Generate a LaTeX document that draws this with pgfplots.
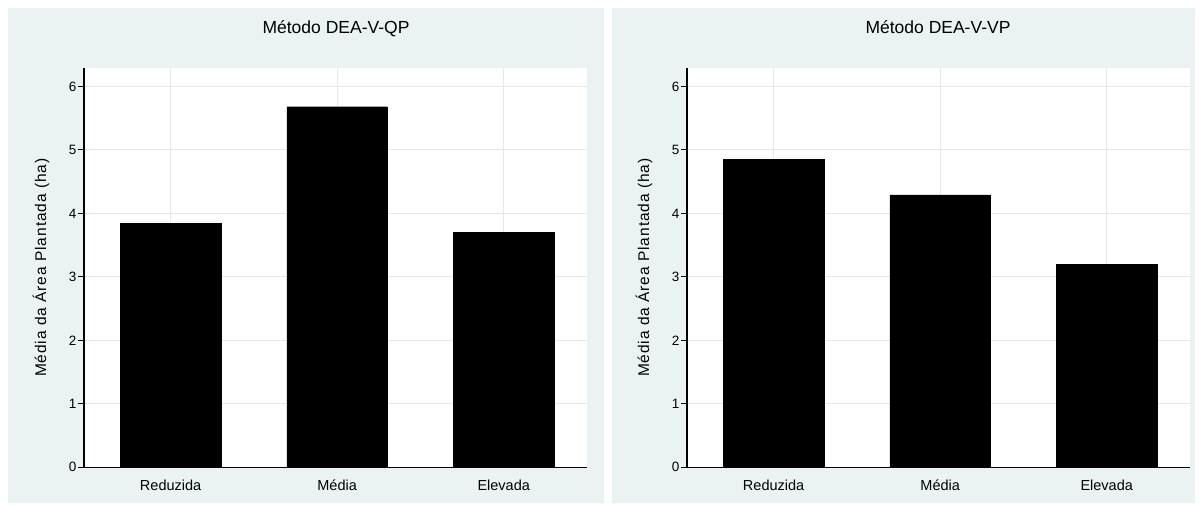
\documentclass[border=0pt]{standalone}
\usepackage{fontspec}
\setmainfont{Liberation Sans}
\usepackage{pgfplots}
\pgfplotsset{compat=1.18}
\definecolor{panelbg}{RGB}{234,242,243}
\definecolor{gridc}{RGB}{232,232,232}
\pgfplotsset{
  stata/.style={
    scale only axis, width=503pt, height=399.3pt,
    xmin=0.48, xmax=3.5, ymin=0, ymax=6.29,
    axis x line*=bottom, axis y line*=left,
    axis line style={-, line width=1.1pt, black},
    axis background/.style={fill=white},
    xtick={1,2,3}, xticklabels={Reduzida,Média,Elevada},
    ytick={0,1,2,3,4,5,6},
    grid=major, major grid style={draw=gridc, line width=1pt},
    tick align=outside, major tick length=6pt,
    x tick style={draw=none}, y tick style={black, line width=0.8pt},
    /pgf/number format/assume math mode=true,
    xticklabel style={font=\fontsize{14.5}{16}\selectfont, yshift=-3pt},
    yticklabel style={inner sep=1.5pt, font=\fontsize{13.5}{15}\selectfont},
    ylabel={Média da Área Plantada (ha)},
    ylabel style={at={(axis description cs:-0.0855,0.5)}, anchor=center, font=\fontsize{15.5}{17}\selectfont\addfontfeature{LetterSpace=6}},
    ybar, bar width=100.5pt, bar shift=0pt,
  }
}
\begin{document}
\begin{tikzpicture}
\useasboundingbox (0,0) rectangle (1203pt,-506pt);
\fill[white] (0,0) rectangle (1203pt,-506pt);
\fill[panelbg] (8pt,-8pt) rectangle (604pt,-503pt);
\fill[panelbg] (612pt,-8pt) rectangle (1195pt,-503pt);
\node[anchor=base, font=\fontsize{17.5}{20}\selectfont] at (336pt,-33pt) {Método DEA-V-QP};
\node[anchor=base, font=\fontsize{17.5}{20}\selectfont] at (938pt,-33pt) {Método DEA-V-VP};
\begin{axis}[stata, at={(84pt,-467.3pt)}, anchor=south west]
\addplot[fill=black, draw=black] coordinates {(1,3.84) (2,5.68) (3,3.70)};
\end{axis}
\begin{axis}[stata, at={(687pt,-467.3pt)}, anchor=south west]
\addplot[fill=black, draw=black] coordinates {(1,4.85) (2,4.29) (3,3.20)};
\end{axis}
\end{tikzpicture}
\end{document}
